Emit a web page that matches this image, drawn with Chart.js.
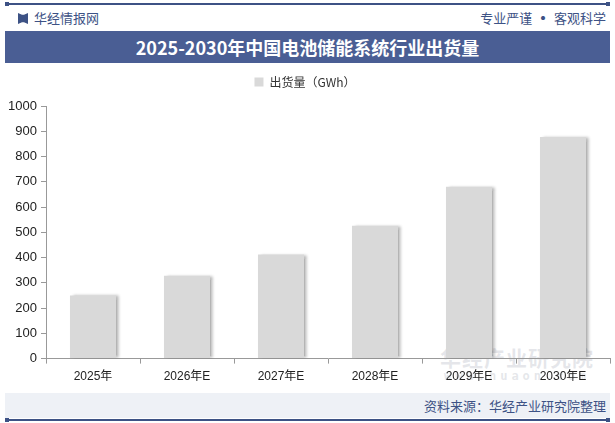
<!DOCTYPE html>
<html>
<head>
<meta charset="utf-8">
<script src="https://cdn.jsdelivr.net/npm/chart.js@4.4.1/dist/chart.umd.min.js"></script>
<style>
  html, body { margin: 0; padding: 0; background: #fff; }
  body { width: 615px; height: 423px; position: relative; overflow: hidden;
         font-family: "Noto Sans CJK SC", "Noto Sans", sans-serif; }
  .line { position: absolute; left: 5px; width: 605px; height: 2px; background: #3d5285; }
  .line::before, .line::after { content: ""; position: absolute; top: -1px; width: 4px; height: 4px; background: #3d5285; }
  .line::before { left: 0; }
  .line::after { right: 0; }
  #brand { position: absolute; left: 18px; top: 8px; font-size: 13px; color: #3d5285; }
  #brand i { display: inline-block; width: 10px; height: 11px; background: #3d5285; margin-right: 6px; vertical-align: -1px;
             clip-path: polygon(0 0, 40% 15%, 60% 15%, 100% 0, 100% 100%, 60% 85%, 40% 85%, 0 100%); }
  #motto { position: absolute; right: 9px; top: 8px; font-size: 13px; color: #3d5285; }
  #motto b { font-size: 16px; line-height: 10px; vertical-align: -1px; }
  #title { position: absolute; left: 5px; top: 31px; width: 605px; height: 32px; background: #4a5e94;
           color: #fff; font-size: 18px; font-weight: bold; text-align: center; line-height: 32px; }
  #wm { position: absolute; left: 440px; top: 345px; color: rgba(180,185,195,0.35); text-align: center; }
  #wm div:first-child { font-size: 21px; font-weight: bold; letter-spacing: 1px; line-height: 24px; }
  #wm div:last-child { font-size: 12px; font-weight: bold; letter-spacing: 4px; font-family: "DejaVu Sans Mono", monospace; }
  #wrap { position: absolute; left: 0; top: 70px; width: 615px; height: 320px; }
  #foot { position: absolute; left: 5px; top: 393px; width: 605px; height: 25px; background: #eef1f6;
          color: #3d5285; font-size: 13px; text-align: right; line-height: 25px; }
  #foot span { padding-right: 4px; }
</style>
</head>
<body>
<div class="line" style="top:3px"></div>
<div id="brand"><i></i>华经情报网</div>
<div id="motto">专业严谨 <b>•</b> 客观科学</div>
<div id="title">2025-2030年中国电池储能系统行业出货量</div>
<div id="wm"><div>华经产业研究院</div><div>www.huaon.com</div></div>
<div id="wrap"><canvas id="chart" width="615" height="320"></canvas></div>
<div id="foot"><span>资料来源：华经产业研究院整理</span></div>
<div class="line" style="top:419px"></div>
<script>
const years = ['2025年', '2026年E', '2027年E', '2028年E', '2029年E', '2030年E'];
const shipments = [250, 328, 412, 526, 680, 877];
const yTicks = [0, 100, 200, 300, 400, 500, 600, 700, 800, 900, 1000];

const barShadow = {
  id: 'barShadow',
  beforeDatasetDraw(chart) {
    const ctx = chart.ctx;
    ctx.save();
    ctx.shadowColor = 'rgba(0,0,0,0.3)';
    ctx.shadowBlur = 3;
    ctx.shadowOffsetX = 3;
    ctx.shadowOffsetY = 0;
  },
  afterDatasetDraw(chart) {
    chart.ctx.restore();
  }
};

// extra room under the legend
const legendGap = {
  id: 'legendGap',
  beforeInit(chart) {
    const fit = chart.legend.fit;
    chart.legend.fit = function () {
      fit.bind(chart.legend)();
      this.height += 8;
    };
  }
};

new Chart(document.getElementById('chart'), {
  type: 'bar',
  data: {
    labels: years,
    datasets: [{
      label: '出货量（GWh）',
      data: shipments,
      backgroundColor: '#d9d9d9',
      categoryPercentage: 1,
      barPercentage: 0.49,
    }],
  },
  options: {
    responsive: false,
    animation: false,
    devicePixelRatio: 1,
    layout: { padding: { left: 0, right: 5, top: 0, bottom: 0 } },
    plugins: {
      legend: {
        labels: { boxWidth: 9, boxHeight: 9, color: '#333', font: { size: 12, family: '"Noto Sans CJK SC", sans-serif' }, padding: 6 },
      },
      tooltip: { enabled: false },
    },
    scales: {
      x: {
        grid: { display: true, drawOnChartArea: false, offset: true, color: '#999', tickLength: 5 },
        border: { color: '#999' },
        ticks: { color: '#222', maxRotation: 0, font: { size: 12, family: '"Liberation Sans", Arial, "Noto Sans CJK SC"' }, padding: 6 },
      },
      y: {
        min: 0, max: 1000,
        afterBuildTicks: s => { s.ticks = yTicks.map(v => ({ value: v })); },
        afterFit: s => { s.width = 46; },
        grid: { display: true, drawOnChartArea: false, color: '#999', tickLength: 5 },
        border: { color: '#999' },
        ticks: { color: '#222', callback: v => String(v), font: { size: 13, family: '"Liberation Sans", Arial' }, padding: 4 },
      },
    },
  },
  plugins: [barShadow, legendGap],
});
</script>
</body>
</html>
